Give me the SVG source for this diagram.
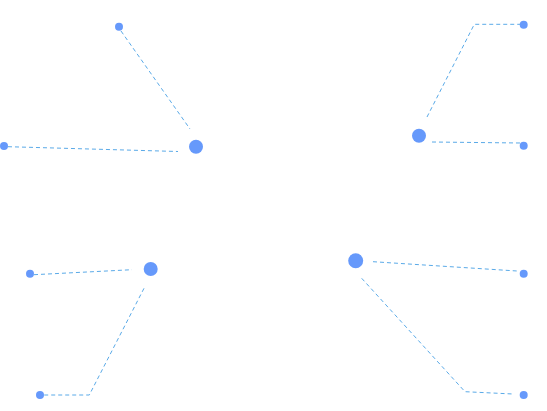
<svg xmlns="http://www.w3.org/2000/svg" width="547" height="411" viewBox="0 0 547 411">
<style>
.edge{fill:none;stroke:#5aaae8;stroke-width:1;stroke-dasharray:4 3}
.big{fill:#6699fb}
.small{fill:#6699fb}
</style>
<rect width="547" height="411" fill="#ffffff"/>
<g id="connectors">
<polyline class="edge" points="121,31 190,129"/>
<polyline class="edge" points="8,146.7 178,151.5"/>
<polyline class="edge" points="427,117 474.3,24.3 520,24.3"/>
<polyline class="edge" points="432,142 520,143"/>
<polyline class="edge" points="34,274.7 132,269.7"/>
<polyline class="edge" points="144,288.3 89.3,395 44,395"/>
<polyline class="edge" points="373,261.7 517,271"/>
<polyline class="edge" points="361.7,278.3 465,391.7 513,394"/>
</g>
<g id="hub1"><circle class="big" cx="196" cy="146.8" r="7"/></g>
<g id="leaf1a"><circle class="small" cx="119" cy="26.8" r="4"/></g>
<g id="leaf1b"><circle class="small" cx="4" cy="146" r="4"/></g>
<g id="hub2"><circle class="big" cx="419" cy="135.7" r="7"/></g>
<g id="leaf2a"><circle class="small" cx="523.7" cy="24.7" r="4"/></g>
<g id="leaf2b"><circle class="small" cx="523.7" cy="145.7" r="4"/></g>
<g id="hub3"><circle class="big" cx="150.7" cy="269" r="7"/></g>
<g id="leaf3a"><circle class="small" cx="30" cy="273.7" r="4"/></g>
<g id="leaf3b"><circle class="small" cx="40" cy="395" r="4"/></g>
<g id="hub4"><circle class="big" cx="355.7" cy="260.7" r="7.5"/></g>
<g id="leaf4a"><circle class="small" cx="523.7" cy="273.7" r="4"/></g>
<g id="leaf4b"><circle class="small" cx="523.7" cy="395" r="4"/></g>
</svg>
